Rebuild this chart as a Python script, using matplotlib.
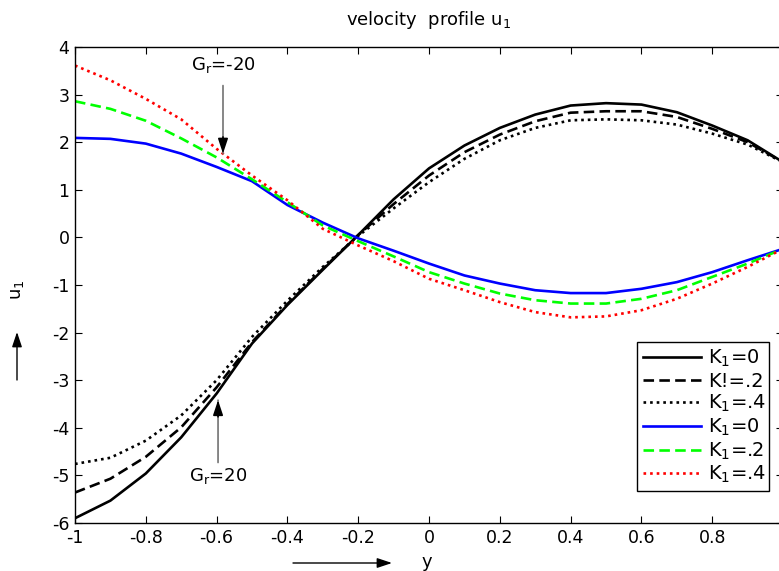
import numpy as np
import matplotlib
matplotlib.use('Agg')
import matplotlib.pyplot as plt

plt.rcParams['font.family'] = ['DejaVu Sans']
plt.rcParams['mathtext.fontset'] = 'dejavusans'

# y positions across the channel
y = [-1.0, -0.9, -0.8, -0.7, -0.6, -0.5, -0.4, -0.3, -0.2, -0.1,
     0.0, 0.1, 0.2, 0.3, 0.4, 0.5, 0.6, 0.7, 0.8, 0.9, 1.0]

# Gr = 20
u_gr20_k0 = [-5.90, -5.53, -4.96, -4.20, -3.28, -2.23, -1.42, -0.68, 0.05, 0.80,
             1.45, 1.93, 2.30, 2.58, 2.77, 2.82, 2.79, 2.63, 2.35, 2.04, 1.58]
u_gr20_k2 = [-5.36, -5.07, -4.61, -3.99, -3.15, -2.20, -1.40, -0.66, 0.05, 0.70,
             1.30, 1.79, 2.16, 2.44, 2.62, 2.65, 2.65, 2.53, 2.28, 2.00, 1.58]
u_gr20_k4 = [-4.76, -4.63, -4.27, -3.74, -3.00, -2.09, -1.33, -0.62, 0.03, 0.61,
             1.16, 1.65, 2.04, 2.30, 2.46, 2.48, 2.46, 2.37, 2.18, 1.95, 1.58]

# Gr = -20
u_grm20_k0 = [2.09, 2.07, 1.97, 1.76, 1.48, 1.18, 0.68, 0.31, -0.02, -0.28,
              -0.55, -0.80, -0.97, -1.11, -1.17, -1.17, -1.08, -0.94, -0.73, -0.48, -0.24]
u_grm20_k2 = [2.86, 2.70, 2.45, 2.08, 1.68, 1.22, 0.74, 0.25, -0.08, -0.40,
              -0.73, -0.97, -1.18, -1.32, -1.39, -1.39, -1.29, -1.11, -0.83, -0.55, -0.24]
u_grm20_k4 = [3.61, 3.30, 2.91, 2.48, 1.86, 1.30, 0.78, 0.18, -0.17, -0.50,
              -0.87, -1.11, -1.36, -1.57, -1.68, -1.66, -1.53, -1.29, -0.97, -0.62, -0.24]

labels = ['K$_1$=0', 'K!=.2', 'K$_1$=.4', 'K$_1$=0', 'K$_1$=.2', 'K$_1$=.4']

fig = plt.figure(figsize=(7.79, 5.71), dpi=100)
ax = fig.add_axes([0.0963, 0.0841, 0.9089, 0.8336])

lw = 1.9
ax.plot(y, u_gr20_k0, color='black', lw=lw, label=labels[0])
ax.plot(y, u_gr20_k2, color='black', lw=lw, ls=(0, (4, 2)), label=labels[1])
ax.plot(y, u_gr20_k4, color='black', lw=lw, ls=(0, (1, 1.5)), label=labels[2])
ax.plot(y, u_grm20_k0, color='#0000ff', lw=lw, label=labels[3])
ax.plot(y, u_grm20_k2, color='#00ff00', lw=lw, ls=(0, (4, 2)), label=labels[4])
ax.plot(y, u_grm20_k4, color='#ff0000', lw=lw, ls=(0, (1, 1.5)), label=labels[5])

ax.set_xlim(-1, 1)
ax.set_ylim(-6, 4)
ax.set_xticks([-1, -0.8, -0.6, -0.4, -0.2, 0, 0.2, 0.4, 0.6, 0.8])
ax.set_xticklabels(['-1', '-0.8', '-0.6', '-0.4', '-0.2', '0', '0.2', '0.4', '0.6', '0.8'])
ax.set_yticks(np.arange(-6, 5, 1))
ax.set_yticklabels([str(v) for v in range(-6, 5)])
ax.tick_params(direction='in', length=5, width=0.8, top=True, right=True,
               labelsize=12.5, pad=4)
for s in ax.spines.values():
    s.set_linewidth(1.0)

ax.set_title('velocity  profile u$_1$', fontsize=13, pad=16)


def pointer(x, y_tail, y_tip):
    # grey shaft with a black head, MATLAB-style
    ax.annotate('', xy=(x, y_tip), xytext=(x, y_tail),
                arrowprops=dict(arrowstyle='-', color='0.45', lw=1.2,
                                shrinkA=0, shrinkB=0))
    ax.annotate('', xy=(x, y_tip), xytext=(x, y_tip + 0.35 * np.sign(y_tail - y_tip)),
                arrowprops=dict(arrowstyle='-|>,head_length=0.9,head_width=0.3',
                                color='black', lw=1.2, shrinkA=0, shrinkB=0))


pointer(-0.582, 3.19, 1.76)
ax.text(-0.582, 3.62, r'G$_\mathregular{r}$=-20', ha='center', va='center', fontsize=13)
pointer(-0.596, -4.73, -3.42)
ax.text(-0.596, -5.02, r'G$_\mathregular{r}$=20', ha='center', va='center', fontsize=13)

# axis labels with direction arrows
fig.text(17 / 779, 1 - 290 / 571, 'u$_1$', rotation=90, ha='center', va='center',
         fontsize=13)
fig.text(427 / 779, 1 - 562 / 571, 'y', ha='center', va='center', fontsize=13)
axis_arrow = dict(arrowstyle='-|>,head_length=0.9,head_width=0.3', color='black',
                  lw=1.0, shrinkA=0, shrinkB=0)
ax.annotate('', xy=(17, 571 - 332), xytext=(17, 571 - 380),
            xycoords='figure pixels', textcoords='figure pixels',
            arrowprops=axis_arrow, annotation_clip=False)
ax.annotate('', xy=(392, 571 - 563), xytext=(293, 571 - 563),
            xycoords='figure pixels', textcoords='figure pixels',
            arrowprops=axis_arrow, annotation_clip=False)

leg = ax.legend(loc='lower left', bbox_to_anchor=(0.794, 0.067, 0.1864, 0.32),
                mode='expand', fontsize=14,
                frameon=True, fancybox=False, framealpha=1, edgecolor='black',
                handlelength=3.0, handletextpad=0.35, borderpad=0.3,
                labelspacing=0.12, borderaxespad=0)
leg.get_frame().set_linewidth(1.0)

fig.savefig('out.png', dpi=100)
